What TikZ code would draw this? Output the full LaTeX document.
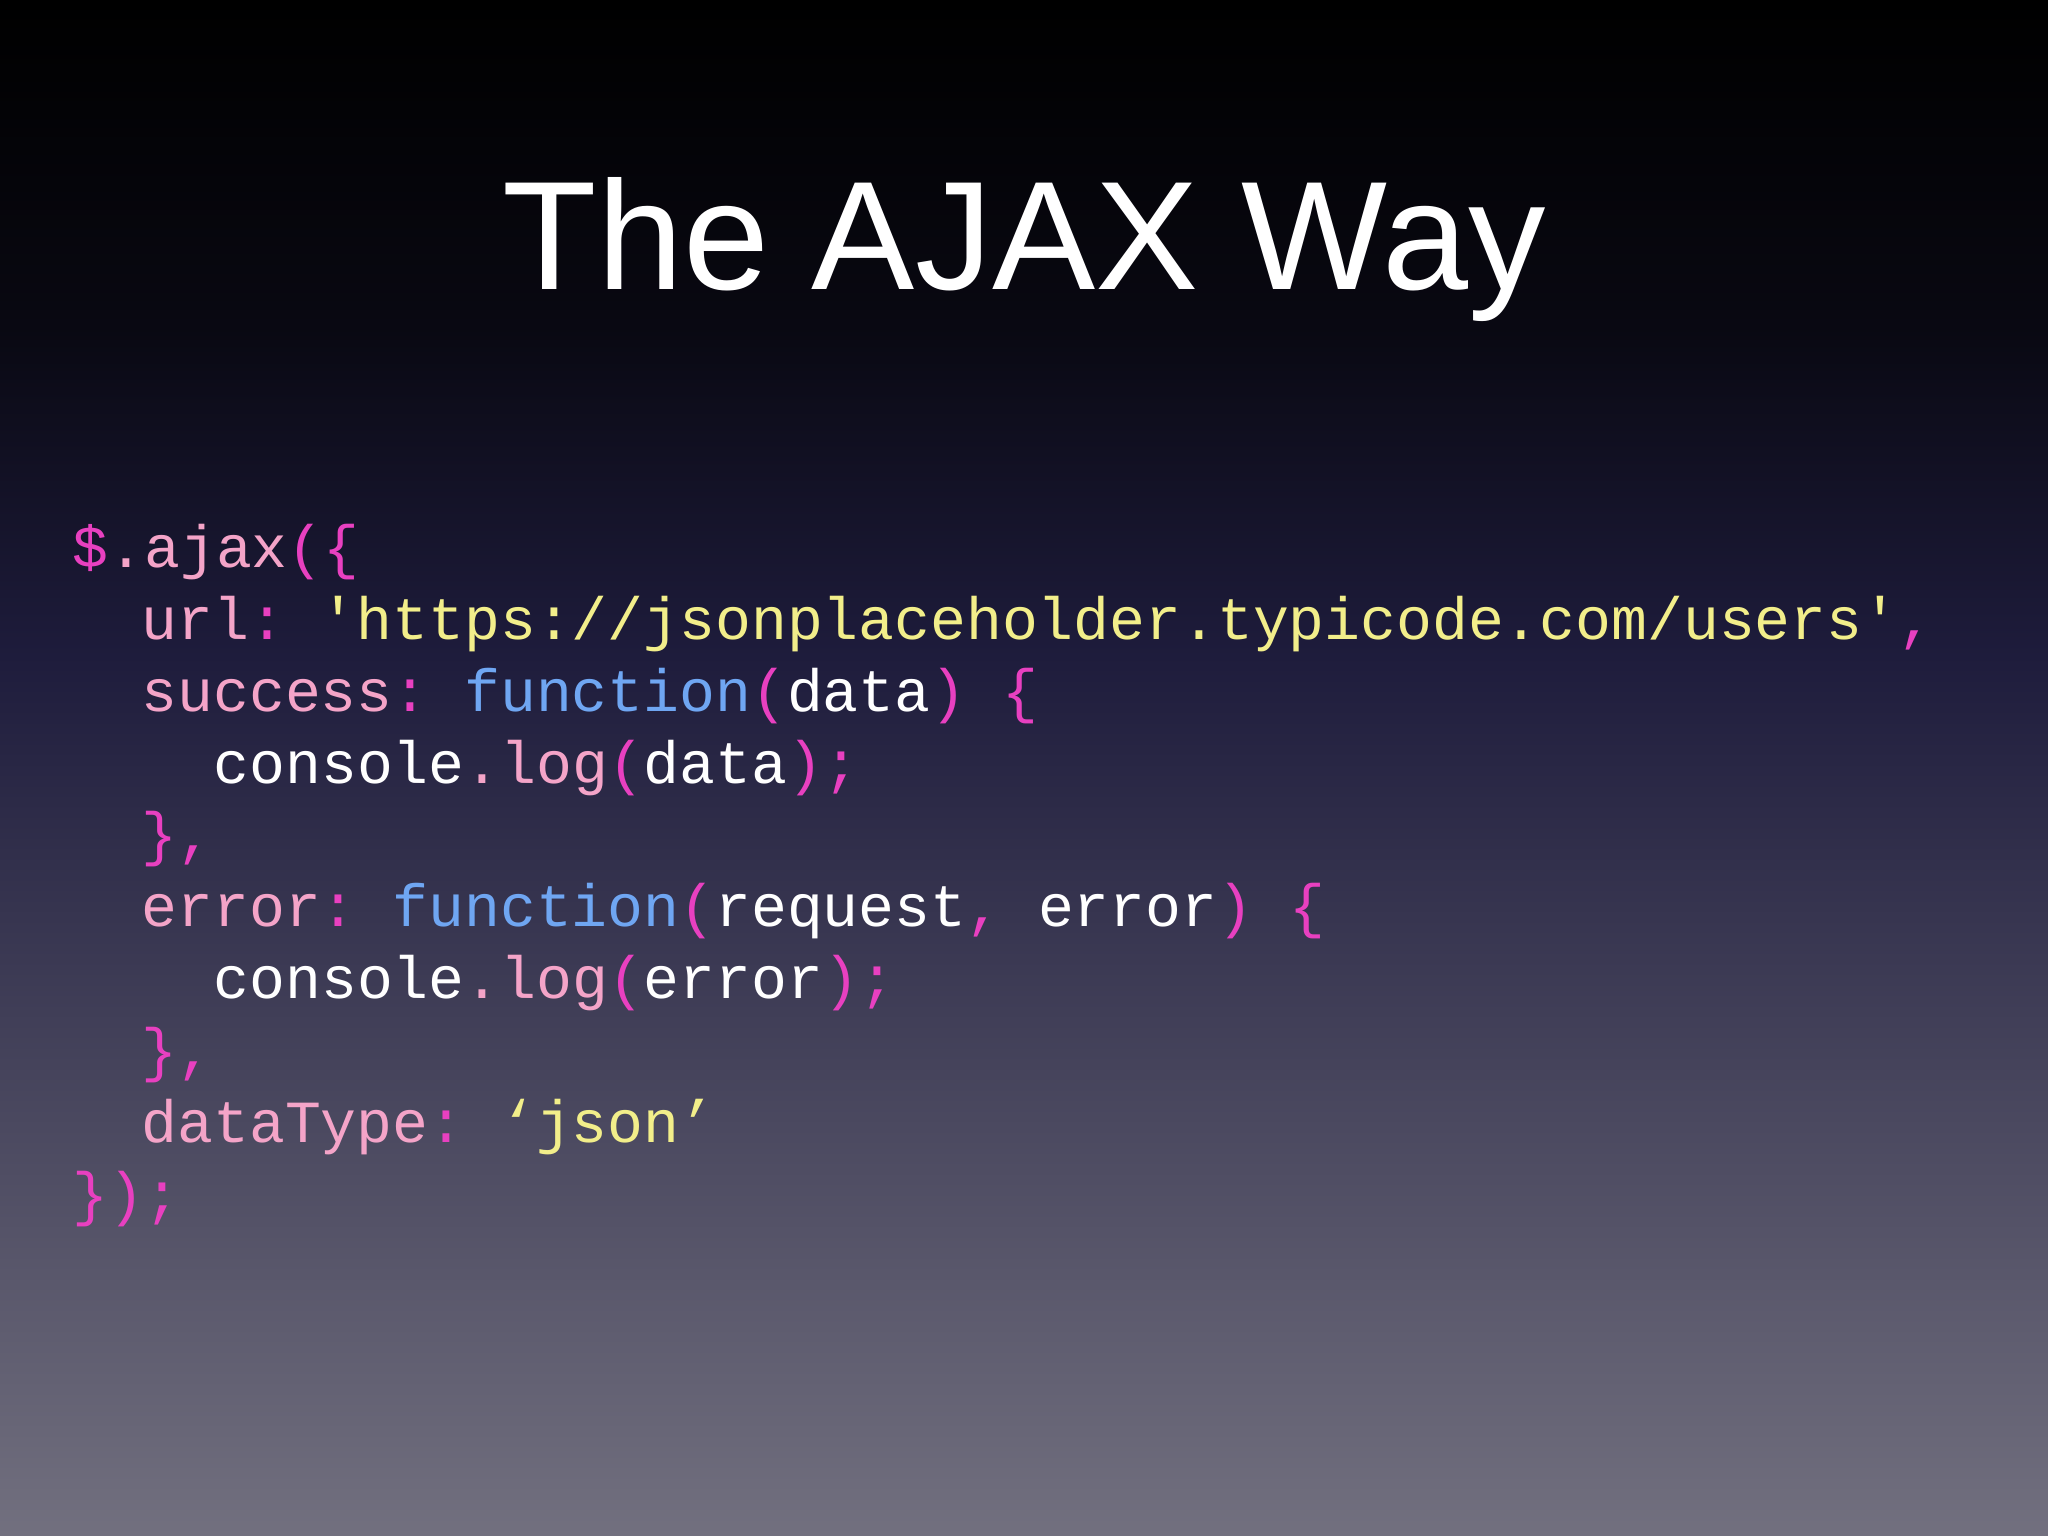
\documentclass[tikz,border=0pt]{standalone}
\usepackage{fontspec}
\setmainfont{Liberation Sans}
\setmonofont{Liberation Mono}
\definecolor{bgtop}{HTML}{000000}
\definecolor{bgmid}{HTML}{1E1C3C}
\definecolor{bgbot}{HTML}{72707F}
\definecolor{pu}{HTML}{E840C0}
\definecolor{ky}{HTML}{F4A4C8}
\definecolor{fn}{HTML}{6FA6F2}
\definecolor{st}{HTML}{F2EE8A}
\tikzset{codeline/.style={anchor=base west,inner sep=0pt,text=white,font=\ttfamily\fontsize{17}{17}\selectfont}}
\begin{document}
\begin{tikzpicture}
\useasboundingbox (0,0) rectangle (20.48,15.36);
\shade[top color=bgtop,bottom color=bgmid,middle color=bgtop!70!bgmid] (0,8.8) rectangle (20.48,15.36);
\shade[top color=bgmid,bottom color=bgbot] (-0.01,0) rectangle (20.49,8.81);
\node[anchor=base,text=white,font=\fontsize{44}{44}\selectfont] (title) at (10.24,12.46) {The AJAX Way};
\node[codeline] (l1) at (0.72,9.68) {\color{pu}\$\color{ky}.ajax\color{pu}(\{};
\node[codeline] (l2) at (1.41,8.96) {\color{ky}url\color{pu}: \color{st}'https://jsonplaceholder.typicode.com/users'\color{pu},};
\node[codeline] (l3) at (1.41,8.24) {\color{ky}success\color{pu}: \color{fn}function\color{pu}(\color{white}data\color{pu}) \{};
\node[codeline] (l4) at (2.13,7.52) {console\color{ky}.log\color{pu}(\color{white}data\color{pu});};
\node[codeline] (l5) at (1.41,6.81) {\color{pu}\},};
\node[codeline] (l6) at (1.41,6.09) {\color{ky}error\color{pu}: \color{fn}function\color{pu}(\color{white}request\color{pu}, \color{white}error\color{pu}) \{};
\node[codeline] (l7) at (2.13,5.37) {console\color{ky}.log\color{pu}(\color{white}error\color{pu});};
\node[codeline] (l8) at (1.41,4.65) {\color{pu}\},};
\node[codeline] (l9) at (1.41,3.93) {\color{ky}dataType\color{pu}: \color{st}‘json’};
\node[codeline] (l10) at (0.72,3.21) {\color{pu}\});};
\end{tikzpicture}
\end{document}
